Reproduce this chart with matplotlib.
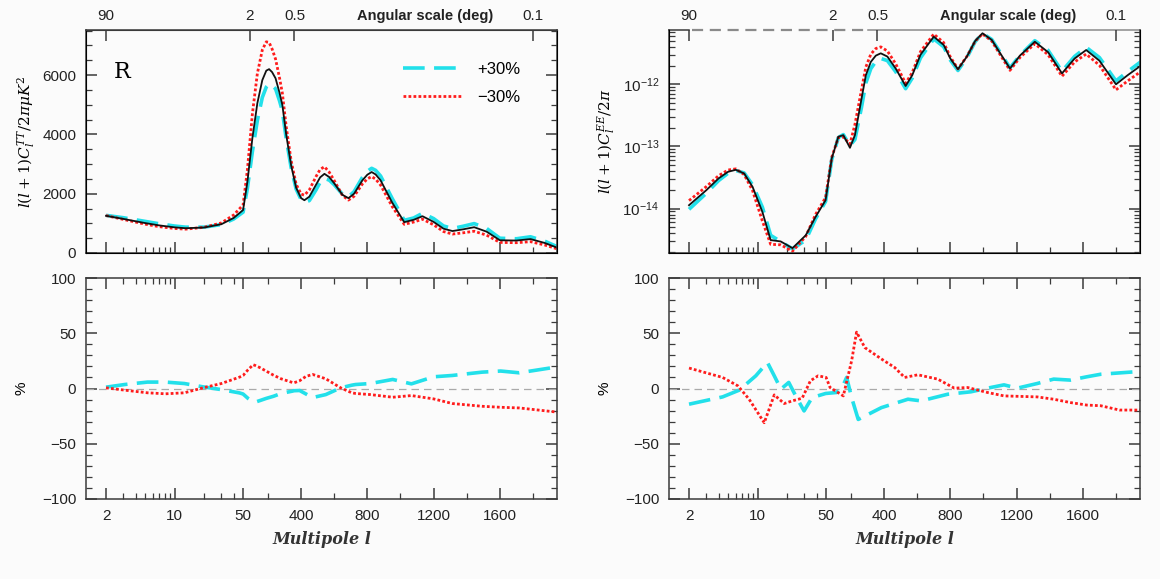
import numpy as np
import matplotlib.pyplot as plt
from matplotlib.lines import Line2D

plt.rcParams['font.family'] = ['Liberation Sans', 'DejaVu Sans']

# ---------------- TT spectrum (left, top) ----------------
l_tt = [2, 3, 5, 7, 10, 13, 20, 30, 40, 50, 76, 106, 136, 166, 190, 207, 225, 246, 270, 287,
        310, 340, 370, 400, 420, 450, 490, 515, 541, 570, 600, 650, 686, 720, 770, 800, 826,
        850, 880, 950, 1023, 1080, 1133, 1200, 1260, 1314, 1380, 1445, 1520, 1600, 1700, 1785,
        1870, 1950]
tt_fid = [1255, 1150, 1010, 930, 865, 835, 860, 970, 1180, 1450, 2400, 3870, 5050, 5830, 6150,
          6200, 6100, 5890, 5400, 4990, 4000, 2950, 2200, 1850, 1780, 1900, 2300, 2550, 2670,
          2560, 2350, 1960, 1850, 2000, 2450, 2640, 2730, 2650, 2450, 1700, 1040, 1120, 1240,
          1050, 820, 740, 800, 870, 720, 430, 420, 470, 340, 170]
tt_plus = [1270, 1190, 1067, 984, 910, 871, 872, 960, 1145, 1378, 2184, 3417, 4469, 5247, 5597,
           5704, 5643, 5537, 5130, 4790, 3868, 2876, 2158, 1804, 1709, 1767, 2128, 2384, 2515,
           2458, 2303, 1980, 1896, 2068, 2548, 2754, 2856, 2788, 2597, 1838, 1102, 1182, 1339,
           1161, 912, 827, 904, 992, 829, 498, 480, 547, 402, 203]
tt_minus = [1263, 1133, 973, 887, 827, 804, 867, 1014, 1280, 1621, 2808, 4690, 6050, 6850, 7122,
            7099, 6881, 6538, 5902, 5389, 4272, 3109, 2321, 1989, 1949, 2128, 2576, 2818, 2910,
            2726, 2444, 1940, 1785, 1914, 2328, 2500, 2577, 2491, 2291, 1567, 967, 1044, 1141,
            951, 723, 639, 682, 734, 601, 357, 347, 382, 271, 133]

# ---------------- TT percent difference (left, bottom) ----------------
l_tt_pc = [2, 3.1, 5.3, 8.1, 12.6, 19.5, 30, 46, 50, 80, 111, 122, 150, 189, 234, 279, 347, 358,
           391, 430, 470, 549, 639, 706, 729, 818, 953, 1066, 1200, 1313, 1493, 1605, 1717, 1953]
tt_pc_plus = [1.2, 3.6, 5.8, 5.8, 4.5, 1.5, -1, -4, -5, -9, -12, -12.4, -11, -9, -7, -4.5, -2.4,
              -2, -1.8, -5, -8.2, -5.5, 0.6, 3, 3.6, 4.5, 8.2, 4.2, 10.6, 11.8, 14.8, 15.8, 14.2,
              19.7]
tt_pc_minus = [0.6, -1.5, -3.9, -4.8, -3.9, 0.6, 4.5, 10.3, 11.8, 17, 21.5, 20.9, 19, 15.8, 12,
               8.8, 5.5, 5.2, 7, 11, 12.7, 8.8, 0.6, -3.9, -4.5, -5.5, -7.9, -6.4, -9.4, -13.6,
               -16.1, -17, -17.6, -21.5]

# ---------------- EE spectrum (right, top) ----------------
l_ee = [2, 3, 4, 5, 6, 7.3, 8.9, 11.2, 13.6, 17.2, 22.7, 31, 39, 49.4, 84, 124, 154, 194, 224,
        264, 290, 320, 350, 380, 420, 470, 530, 570, 620, 700, 760, 800, 846, 900, 950, 994,
        1050, 1100, 1160, 1220, 1310, 1390, 1474, 1550, 1620, 1700, 1800, 1870, 1950]
ee_fid = [1.13e-14, 1.97e-14, 3.05e-14, 3.9e-14, 4.2e-14, 3.67e-14, 2.23e-14, 8.8e-15, 3.1e-15,
          2.95e-15, 2.3e-15, 3.7e-15, 7.3e-15, 1.36e-14, 6.4e-14, 1.43e-13, 1.52e-13, 9.5e-14,
          1.52e-13, 5.9e-13, 1.4e-12, 2.3e-12, 2.9e-12, 3.16e-12, 2.8e-12, 1.8e-12, 9.4e-13,
          1.4e-12, 3.0e-12, 5.86e-12, 4.3e-12, 2.6e-12, 1.75e-12, 2.8e-12, 5.0e-12, 6.65e-12,
          5.2e-12, 3.2e-12, 1.8e-12, 2.9e-12, 4.86e-12, 3.3e-12, 1.5e-12, 2.6e-12, 3.57e-12,
          2.4e-12, 1.0e-12, 1.4e-12, 2.0e-12]
ee_plus = [0.97e-14, 1.76e-14, 2.81e-14, 3.7e-14, 4.1e-14, 3.74e-14, 2.40e-14, 1.05e-14, 3.7e-15,
           2.94e-15, 2.23e-15, 3.1e-15, 6.8e-15, 1.30e-14, 6.14e-14, 1.39e-13, 1.55e-13, 1.03e-13,
           1.29e-13, 4.31e-13, 1.05e-12, 1.79e-12, 2.33e-12, 2.61e-12, 2.41e-12, 1.60e-12,
           8.5e-13, 1.26e-12, 2.67e-12, 5.39e-12, 4.02e-12, 2.46e-12, 1.67e-12, 2.70e-12,
           4.88e-12, 6.62e-12, 5.28e-12, 3.30e-12, 1.84e-12, 2.91e-12, 5.05e-12, 3.53e-12,
           1.62e-12, 2.81e-12, 3.95e-12, 2.70e-12, 1.135e-12, 1.60e-12, 2.31e-12]
ee_minus = [1.34e-14, 2.25e-14, 3.37e-14, 4.17e-14, 4.35e-14, 3.52e-14, 1.94e-14, 6.3e-15,
            2.65e-15, 2.6e-15, 2.05e-15, 3.55e-15, 8.0e-15, 1.50e-14, 6.66e-14, 1.40e-13,
            1.42e-13, 1.09e-13, 2.25e-13, 8.26e-13, 1.90e-12, 3.06e-12, 3.77e-12, 4.01e-12,
            3.44e-12, 2.14e-12, 1.04e-12, 1.55e-12, 3.37e-12, 6.45e-12, 4.69e-12, 2.76e-12,
            1.77e-12, 2.82e-12, 4.95e-12, 6.48e-12, 4.99e-12, 3.02e-12, 1.68e-12, 2.70e-12,
            4.50e-12, 3.00e-12, 1.35e-12, 2.29e-12, 3.07e-12, 2.03e-12, 0.815e-12, 1.13e-12,
            1.61e-12]

# ---------------- EE percent difference (right, bottom) ----------------
l_ee_pc_plus = [2, 4.4, 6.5, 9.6, 12.6, 14.8, 17.3, 20.8, 24.5, 29.8, 36, 49.5, 114, 150, 174,
                204, 244, 384, 544, 624, 784, 924, 1024, 1124, 1204, 1324, 1424, 1524, 1624,
                1708, 1960]
ee_pc_plus = [-14.2, -7.6, -1.5, 11.5, 23.6, 11.5, -0.6, 5.5, -6.7, -20.3, -8.2, -4.5, -3.6, 2,
              10, -8.2, -28, -17.3, -9.7, -11.2, -5.2, -3, 0.3, 3.3, 0.3, 4.5, 8.5, 7.6, 10.6,
              12.9, 15.6]
l_ee_pc_minus = [2, 4.4, 6.3, 8.2, 11.7, 14.8, 18.7, 22.6, 28.5, 34.6, 41.5, 50, 74, 154, 204,
                 234, 284, 384, 464, 524, 604, 724, 824, 904, 1024, 1124, 1324, 1424, 1524,
                 1624, 1708, 1821, 1960]
ee_pc_minus = [18.5, 10, 2.4, -9.7, -31, -5.8, -13.6, -11.2, -8.8, 7, 11.5, 10, 0.9, -6.7, 25,
               51, 37, 26.7, 19, 10, 12.4, 8.5, 0.3, 0.9, -3.6, -6.7, -7.6, -9.7, -12.7, -15,
               -15.6, -19.5, -19.5]

# axis ticks
x_major = [2, 10, 50, 400, 800, 1200, 1600]
x_minor = [3, 4, 5, 6, 7, 8, 9, 20, 30, 40, 200, 600, 1000, 1400, 1800]
pc_major = [-100, -50, 0, 50, 100]
pc_minor = [v for v in range(-90, 100, 10) if v % 50 != 0]
tt_major = [0, 2000, 4000, 6000]
tt_minor = [v for v in range(500, 7501, 500) if v % 2000 != 0]
ang_labels = ['90', '2', '0.5', '0.1']
ang_pos = [180 / 90, 180 / 2, 180 / 0.5, 180 / 0.1]

CYAN = '#22e0ea'
RED = '#ff1c1c'
BG = '#fbfbfb'
SPINE = '#3a3a3a'


# log in l below 50, linear above
def fwd(l):
    l = np.asarray(l, dtype=float)
    with np.errstate(divide='ignore', invalid='ignore'):
        return np.where(l > 50, (l - 50) / 400.0, 1.48 * np.log10(np.maximum(l, 1e-9) / 50.0))


def inv(u):
    u = np.asarray(u, dtype=float)
    return np.where(u > 0, 50 + 400.0 * u, 50 * 10 ** (u / 1.48))


XLIM = (1.25, 1945)


def style_x(ax, labels=True):
    ax.set_xscale('function', functions=(fwd, inv))
    ax.set_xlim(*XLIM)
    ax.set_xticks(x_major)
    ax.set_xticks(x_minor, minor=True)
    ax.set_xticklabels([str(v) for v in x_major])
    ax.set_facecolor(BG)
    for s in ax.spines.values():
        s.set_color(SPINE)
        s.set_linewidth(1.1)
    ax.tick_params(which='both', direction='in', colors=SPINE, labelcolor='#222',
                   labelsize=11, right=True, labelbottom=labels)
    ax.tick_params(which='major', length=8, width=1.1, pad=7)
    ax.tick_params(which='minor', length=4, width=0.9)


def angular_axis(ax):
    tw = ax.twiny()
    tw.set_xscale('function', functions=(fwd, inv))
    tw.set_xlim(*XLIM)
    tw.set_xticks(ang_pos)
    tw.set_xticks([], minor=True)
    tw.set_xticklabels(ang_labels)
    tw.tick_params(direction='in', length=8, width=1.1, colors=SPINE, labelcolor='#222',
                   labelsize=11, pad=5)
    tw.spines['top'].set_color(SPINE)
    ax.text(0.72, 1.033, 'Angular scale (deg)', transform=ax.transAxes, ha='center',
            va='bottom', fontsize=10.5, fontweight='bold', color='#222')
    return tw


def xlabel(ax):
    ax.set_xlabel('Multipole l', fontsize=11.5, style='italic', fontweight='bold',
                  family='DejaVu Serif', color='#333', labelpad=6)


fig = plt.figure(figsize=(11.6, 5.79), dpi=100, facecolor=BG)
W, H = 1160, 579
ax_tl = fig.add_axes([86 / W, (H - 253) / H, 471 / W, 223 / H])
ax_bl = fig.add_axes([86 / W, (H - 499) / H, 471 / W, 221 / H])
ax_tr = fig.add_axes([669 / W, (H - 253) / H, 471 / W, 223 / H])
ax_br = fig.add_axes([669 / W, (H - 499) / H, 471 / W, 221 / H])

dash = (0, (6, 2.6))
dots = (0, (1, 0.8))

# top left: TT
ax = ax_tl
ax.plot(l_tt, tt_plus, color=CYAN, lw=2.6, ls=dash)
ax.plot(l_tt, tt_minus, color=RED, lw=2.0, ls=dots)
ax.plot(l_tt, tt_fid, color='#111111', lw=1.3)
style_x(ax, labels=False)
ax.tick_params(top=False)
ax.set_ylim(0, 7520)
ax.set_yticks(tt_major)
ax.set_yticks(tt_minor, minor=True)
ax.set_ylabel(r'$l(l+1)C_l^{TT}/2\pi\mu K^2$', fontsize=11, labelpad=4,
              math_fontfamily='dejavuserif')
ax.text(0.058, 0.81, 'R', transform=ax.transAxes, fontsize=16, family='DejaVu Serif',
        va='center', ha='left')
handles = [Line2D([], [], color=CYAN, lw=2.6, ls=dash),
           Line2D([], [], color=RED, lw=2.0, ls=dots)]
ax.legend(handles, ['+30%', '\u221230%'], loc='upper right', bbox_to_anchor=(0.955, 0.925),
          frameon=False, fontsize=12, handlelength=3.6, handletextpad=0.9, labelspacing=0.8)
angular_axis(ax)

# bottom left: TT percent
ax = ax_bl
ax.axhline(0, color='#aaaaaa', lw=0.9, ls=(0, (6, 4)))
ax.plot(l_tt_pc, tt_pc_plus, color=CYAN, lw=2.6, ls=dash)
ax.plot(l_tt_pc, tt_pc_minus, color=RED, lw=2.0, ls=dots)
style_x(ax)
ax.tick_params(which='both', top=True)
ax.set_ylim(-100, 100)
ax.set_yticks(pc_major)
ax.set_yticks(pc_minor, minor=True)
ax.set_ylabel('%', fontsize=11, labelpad=10)
xlabel(ax)

# top right: EE
ax = ax_tr
ax.plot(l_ee, ee_plus, color=CYAN, lw=2.6, ls=dash)
ax.plot(l_ee, ee_minus, color=RED, lw=2.0, ls=dots)
ax.plot(l_ee, ee_fid, color='#111111', lw=1.3)
style_x(ax, labels=False)
ax.tick_params(top=False)
ax.set_yscale('log')
ax.set_ylim(1.92e-15, 7.5e-12)
ax.tick_params(which='both', direction='in', right=True, colors=SPINE, labelcolor='#222',
               labelsize=11)
ax.set_ylabel(r'$l(l+1)C_l^{EE}/2\pi$', fontsize=11, labelpad=4,
              math_fontfamily='dejavuserif')
tw = angular_axis(ax)
# top frame: short solid corner, dashed run, then solid again
tw.spines['top'].set_visible(False)
ax.spines['top'].set_visible(False)
tr = ax.get_xaxis_transform()
ax.plot([XLIM[0], 2], [1, 1], color=SPINE, lw=1.1, transform=tr, clip_on=False)
ax.plot([2.15, 300], [1, 1], color='#8a8a8a', lw=1.6, ls=(0, (5, 3)), transform=tr,
        clip_on=False)
ax.plot([300, XLIM[1]], [1, 1], color='#8a8a8a', lw=1.1, transform=tr, clip_on=False)

# bottom right: EE percent
ax = ax_br
ax.axhline(0, color='#aaaaaa', lw=0.9, ls=(0, (6, 4)))
ax.plot(l_ee_pc_plus, ee_pc_plus, color=CYAN, lw=2.6, ls=dash)
ax.plot(l_ee_pc_minus, ee_pc_minus, color=RED, lw=2.0, ls=dots)
style_x(ax)
ax.tick_params(which='both', top=True)
ax.set_ylim(-100, 100)
ax.set_yticks(pc_major)
ax.set_yticks(pc_minor, minor=True)
ax.set_ylabel('%', fontsize=11, labelpad=10)
xlabel(ax)

fig.savefig('out.png', dpi=100, facecolor=BG)
